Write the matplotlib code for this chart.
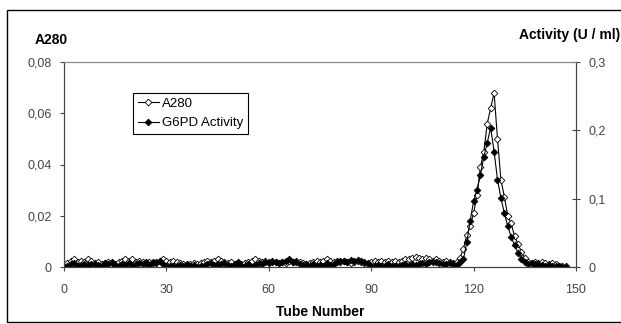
import numpy as np
import matplotlib
matplotlib.use('Agg')
import matplotlib.pyplot as plt
from matplotlib.patches import Rectangle
from matplotlib.ticker import FuncFormatter

plt.rcParams['font.family'] = ['Liberation Sans', 'DejaVu Sans']

tubes = list(range(1, 148))

# A280 absorbance
a280 = [
    0.0015, 0.0025, 0.0030, 0.0020, 0.0025, 0.0020, 0.0030, 0.0025, 0.0015, 0.0020,
    0.0010, 0.0015, 0.0020, 0.0015, 0.0010, 0.0020, 0.0025, 0.0030, 0.0025, 0.0030,
    0.0020, 0.0025, 0.0020, 0.0015, 0.0020, 0.0015, 0.0020, 0.0025, 0.0030, 0.0025,
    0.0020, 0.0025, 0.0020, 0.0015, 0.0010, 0.0005, 0.0010, 0.0015, 0.0010, 0.0015,
    0.0020, 0.0025, 0.0020, 0.0025, 0.0030, 0.0025, 0.0020, 0.0015, 0.0020, 0.0010,
    0.0015, 0.0010, 0.0015, 0.0020, 0.0025, 0.0030, 0.0025, 0.0020, 0.0025, 0.0020,
    0.0025, 0.0020, 0.0015, 0.0020, 0.0015, 0.0025, 0.0020, 0.0025, 0.0020, 0.0015,
    0.0010, 0.0015, 0.0020, 0.0025, 0.0020, 0.0025, 0.0030, 0.0025, 0.0020, 0.0025,
    0.0020, 0.0025, 0.0020, 0.0015, 0.0020, 0.0025, 0.0020, 0.0015, 0.0010, 0.0020,
    0.0025, 0.0020, 0.0025, 0.0020, 0.0025, 0.0020, 0.0025, 0.0020, 0.0025, 0.0030,
    0.0030, 0.0035, 0.0040, 0.0035, 0.0030, 0.0035, 0.0030, 0.0025, 0.0030, 0.0025,
    0.0020, 0.0025, 0.0020, 0.0015, 0.0020,
    0.0035, 0.0070, 0.0125, 0.0160, 0.0210, 0.0280, 0.0390, 0.0450, 0.0560, 0.0620,
    0.0680, 0.0500, 0.0340, 0.0275, 0.0200, 0.0170, 0.0120, 0.0090, 0.0060, 0.0035,
    0.0020, 0.0015, 0.0020, 0.0015, 0.0020, 0.0015, 0.0010, 0.0015, 0.0010, 0.0005,
    0.0005, 0.0002,
]

# G6PD activity in U/ml
g6pd = [
    0.002, 0.004, 0.006, 0.001, 0.003, 0.005, 0.002, 0.004, 0.005, 0.003,
    0.001, 0.006, 0.004, 0.008, 0.003, 0.001, 0.005, 0.003, 0.006, 0.002,
    0.004, 0.006, 0.005, 0.007, 0.003, 0.008, 0.006, 0.009, 0.004, 0.001,
    0.002, 0.001, 0.001, 0.003, 0.002, 0.005, 0.001, 0.003, 0.000, 0.001,
    0.002, 0.004, 0.006, 0.003, 0.005, 0.004, 0.006, 0.003, 0.001, 0.005,
    0.007, 0.002, 0.001, 0.005, 0.000, 0.003, 0.006, 0.004, 0.008, 0.006,
    0.008, 0.007, 0.006, 0.008, 0.009, 0.011, 0.008, 0.007, 0.005, 0.003,
    0.004, 0.002, 0.005, 0.001, 0.003, 0.002, 0.006, 0.003, 0.005, 0.008,
    0.009, 0.009, 0.008, 0.010, 0.009, 0.010, 0.009, 0.007, 0.006, 0.002,
    0.001, 0.003, 0.001, 0.002, 0.004, 0.001, 0.002, 0.001, 0.003, 0.004,
    0.002, 0.004, 0.003, 0.005, 0.006, 0.004, 0.007, 0.008, 0.007, 0.006,
    0.005, 0.004, 0.006, 0.005, 0.003,
    0.008, 0.011, 0.036, 0.068, 0.096, 0.113, 0.135, 0.161, 0.182, 0.204,
    0.169, 0.128, 0.101, 0.079, 0.060, 0.044, 0.032, 0.021, 0.012, 0.007,
    0.005, 0.006, 0.004, 0.005, 0.003, 0.002, 0.003, 0.001, 0.002, 0.001,
    0.000, 0.000,
]

left_ticks = [0, 0.02, 0.04, 0.06, 0.08]
right_ticks = [0, 0.1, 0.2, 0.3]
x_ticks = [0, 30, 60, 90, 120, 150]


def comma_fmt(decimals):
    def f(v, pos):
        if abs(v) < 1e-12:
            return '0'
        return f'{v:.{decimals}f}'.replace('.', ',')
    return FuncFormatter(f)


W, H = 621, 324
fig = plt.figure(figsize=(W / 100, H / 100), dpi=100)
ax = fig.add_axes([64 / W, 1 - 267 / H, (576 - 64) / W, (267 - 62) / H])
ax2 = ax.twinx()

l1, = ax.plot(tubes, a280, color='black', lw=0.8, marker='D', ms=3.4,
              mfc='white', mec='black', mew=0.6, label='A280')
l2, = ax2.plot(tubes, g6pd, color='black', lw=0.8, marker='D', ms=3.4,
               mfc='black', mec='black', mew=0.6, label='G6PD Activity')

ax.set_xlim(0, 150)
ax.set_ylim(0, 0.08)
ax2.set_ylim(0, 0.3)
ax.set_xticks(x_ticks)
ax.set_yticks(left_ticks)
ax2.set_yticks(right_ticks)
ax.yaxis.set_major_formatter(comma_fmt(2))
ax2.yaxis.set_major_formatter(comma_fmt(1))

tick_col = '#444444'
ax.tick_params(axis='both', direction='out', length=3, width=0.8,
               labelsize=9, colors=tick_col)
ax.tick_params(axis='x', pad=9)
ax.tick_params(axis='y', pad=6)
ax2.tick_params(axis='y', direction='inout', length=6, width=0.8,
                labelsize=9, colors=tick_col, pad=6)

for a in (ax, ax2):
    for s in a.spines.values():
        s.set_color('#444444')
        s.set_linewidth(0.8)
    a.spines['top'].set_color('#888888')

ax.set_xlabel('Tube Number', fontsize=10, fontweight='bold', labelpad=7)
fig.text(35 / W, 1 - 40 / H, 'A280', fontsize=10, fontweight='bold',
         ha='left', va='center')
fig.text(620 / W, 1 - 35 / H, 'Activity (U / ml)', fontsize=10,
         fontweight='bold', ha='right', va='center')

fig.legend(handles=[l1, l2], loc='upper left',
           bbox_to_anchor=(133 / W, 1 - 93 / H), bbox_transform=fig.transFigure,
           borderaxespad=0, fancybox=False, edgecolor='black', framealpha=1,
           fontsize=9.5, handlelength=1.6, handletextpad=0.25, borderpad=0.35,
           labelspacing=0.55)
fig.legends[0].get_frame().set_linewidth(0.8)

fig.patches.append(Rectangle((7 / W, 2 / H), 1.0, 1 - 12 / H,
                             transform=fig.transFigure, fill=False,
                             edgecolor='black', lw=1.0, clip_on=False))

fig.savefig('out.png', dpi=100)
